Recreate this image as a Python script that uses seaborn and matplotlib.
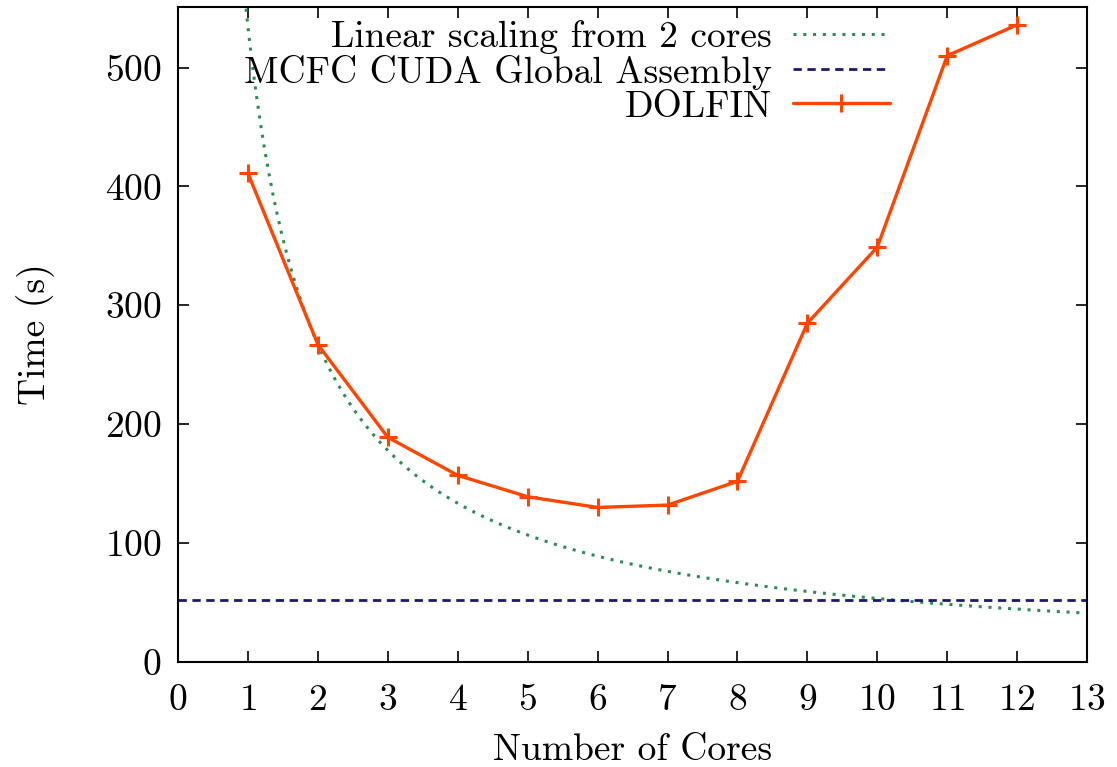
import numpy as np
import pandas as pd
import matplotlib
matplotlib.use("Agg")
import matplotlib.pyplot as plt
import seaborn as sns

# DOLFIN timings
cores = [1, 2, 3, 4, 5, 6, 7, 8, 9, 10, 11, 12]
dolfin_time = [411, 267, 189, 157, 139, 130, 132, 152, 285, 349, 510, 536]
# MCFC CUDA global assembly time (constant)
mcfc_time = 52
x_ticks = list(range(0, 14))
y_ticks = [0, 100, 200, 300, 400, 500]

sns.set_style("ticks")
plt.rcParams['font.family'] = ['cmr10', 'DejaVu Serif']
plt.rcParams['axes.formatter.use_mathtext'] = True
plt.rcParams['font.size'] = 27
plt.rcParams['text.color'] = 'black'
plt.rcParams['axes.labelcolor'] = 'black'
plt.rcParams['xtick.color'] = 'black'
plt.rcParams['ytick.color'] = 'black'
plt.rcParams['axes.edgecolor'] = 'black'

df = pd.DataFrame({'cores': cores, 'time': dolfin_time})

# ideal scaling curve from the 2-core time
t2 = dolfin_time[cores.index(2)]
xs = np.linspace(0.9, 13, 400)
lin = pd.DataFrame({'cores': xs, 'time': t2 * 2 / xs})

fig, ax = plt.subplots(figsize=(11.17, 7.67), dpi=100)
fig.subplots_adjust(left=0.1594, right=0.9732, top=0.9909, bottom=0.1369)

sns.lineplot(data=lin, x='cores', y='time', ax=ax, color='#2e8b57',
             linestyle=(0, (1, 2.2)), linewidth=2.2, label='Linear scaling from 2 cores')
ax.axhline(mcfc_time, color='#191970', linestyle=(0, (3, 2)), linewidth=2,
           label='MCFC CUDA Global Assembly')
sns.lineplot(data=df, x='cores', y='time', ax=ax, color='#ff4500', linewidth=2.4,
             marker='+', markersize=13, markeredgewidth=2.2,
             markeredgecolor='#ff4500', label='DOLFIN')

ax.set_xlim(0, 13)
ax.set_ylim(0, 551)
ax.set_xticks(x_ticks)
ax.set_yticks(y_ticks)
ax.tick_params(direction='in', length=8, width=1.2, top=True, right=True,
               labelsize=27)
ax.tick_params(axis='x', pad=16)
ax.tick_params(axis='y', pad=12)
for s in ax.spines.values():
    s.set_linewidth(1.5)
    s.set_visible(True)

ax.set_xlabel('Number of Cores', fontsize=27, labelpad=12)
ax.set_ylabel('Time (s)', fontsize=27, labelpad=36)

ax.legend(loc='upper right', bbox_to_anchor=(0.804, 1.009), frameon=False,
          markerfirst=False, handlelength=2.6, labelspacing=0.02,
          handletextpad=0.55, borderaxespad=0.1, fontsize=27)

fig.savefig('out.png', dpi=100)
